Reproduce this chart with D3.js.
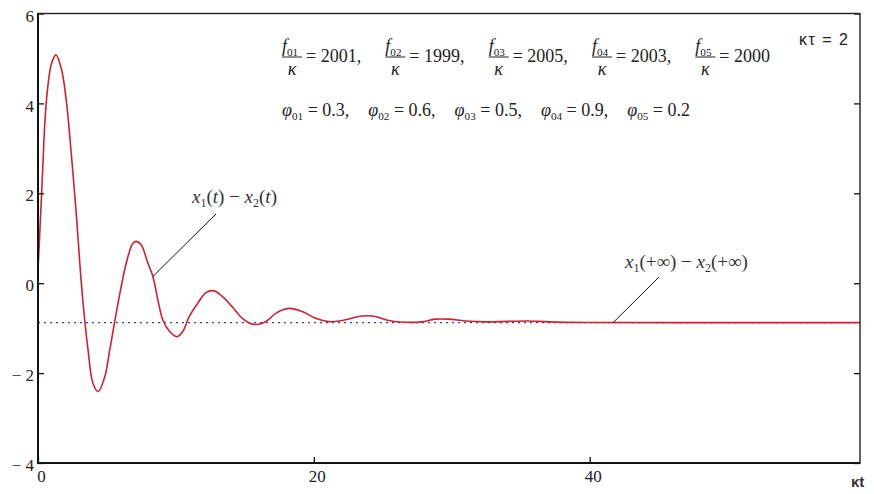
<!DOCTYPE html>
<html>
<head>
<meta charset="utf-8">
<script src="https://cdn.jsdelivr.net/npm/d3@7"></script>
<style>
  body { margin: 0; background: #fff; }
  svg { display: block; }
</style>
</head>
<body>
<svg id="chart" width="874" height="494"></svg>
<script>
// values
const tVals = [0, 0.14, 0.34, 0.51, 0.74, 0.99, 1.3, 1.71, 2.07, 2.43, 2.79, 3.03, 3.27, 3.63, 3.99, 4.36,
  4.84, 5.2, 5.8, 6.4, 6.88, 7.13, 7.49, 7.96, 8.33, 8.69, 9.05, 9.53, 10.06, 10.49, 10.97, 11.57,
  12.18, 12.78, 13.38, 14.1, 14.82, 15.55, 16.27, 16.75, 17.23, 18.2, 19.16, 20.12, 21.1, 22.04,
  23.49, 24.45, 25.42, 26.62, 27.82, 28.79, 29.75, 31, 32.5, 34, 35.5, 37, 40, 50, 59.6];
const diffVals = [0.3, 1.19, 2.52, 3.64, 4.45, 4.9, 5.08, 4.75, 4.01, 2.82, 1.48, 0.45, -0.45, -1.49, -2.23, -2.41,
  -2.08, -1.49, -0.45, 0.45, 0.89, 0.93, 0.85, 0.45, 0.15, -0.37, -0.82, -1.07, -1.19, -1.08, -0.74, -0.45,
  -0.21, -0.17, -0.3, -0.53, -0.78, -0.91, -0.89, -0.8, -0.67, -0.56, -0.63, -0.78, -0.855, -0.83,
  -0.73, -0.74, -0.83, -0.87, -0.86, -0.8, -0.8, -0.84, -0.86, -0.85, -0.84, -0.86, -0.875, -0.877, -0.877];
const asymptote = -0.877;

const xTicks = [0, 20, 40];
const yTicks = [-4, -2, 0, 2, 4, 6];

const freqNames = ['01', '02', '03', '04', '05'];
const freqRatios = [2001, 1999, 2005, 2003, 2000];
const phases = [0.3, 0.6, 0.5, 0.9, 0.2];
const kTau = 2;

const serif = '"Liberation Serif", "DejaVu Serif", serif';
const sans = '"Liberation Sans", Arial, sans-serif';
const ink = '#222';

const svg = d3.select('#chart');

const x = d3.scaleLinear().domain([0, 59.6]).range([38, 860]);
const y = d3.scaleLinear().domain([-4, 6]).range([463, 13.5]);

svg.append('clipPath').attr('id', 'plot-clip')
  .append('rect')
  .attr('x', x(0)).attr('y', y(6))
  .attr('width', x(59.6) - x(0)).attr('height', y(-4) - y(6));

// asymptote, dotted blue
svg.append('line')
  .attr('x1', x(0)).attr('x2', x(59.6))
  .attr('y1', y(asymptote)).attr('y2', y(asymptote))
  .attr('stroke', '#3434bc')
  .attr('stroke-width', 1.4)
  .attr('stroke-dasharray', '2,4');

const pts = tVals.map((t, i) => [t, diffVals[i]]);
const line = d3.line()
  .x(d => x(d[0]))
  .y(d => y(d[1]))
  .curve(d3.curveCatmullRom.alpha(0.5));

svg.append('path')
  .datum(pts)
  .attr('clip-path', 'url(#plot-clip)')
  .attr('d', line)
  .attr('fill', 'none')
  .attr('stroke', '#d0222e')
  .attr('stroke-width', 1.6);

// axes (ticks inside the box)
const fmt = d => (d < 0 ? '\u2212 ' + (-d) : '' + d);

const yAxis = svg.append('g')
  .attr('transform', `translate(${x(0)},0)`)
  .call(d3.axisLeft(y).tickValues(yTicks).tickSize(-6).tickPadding(4).tickFormat(fmt));
yAxis.selectAll('text').attr('dy', '0.45em');

svg.append('g')
  .attr('transform', `translate(${x(59.6)},0)`)
  .call(d3.axisRight(y).tickValues(yTicks).tickSize(-6).tickFormat(''));

const xAxis = svg.append('g')
  .attr('transform', `translate(0,${y(-4)})`)
  .call(d3.axisBottom(x).tickValues(xTicks).tickSize(-6).tickPadding(7).tickFormat(fmt));
xAxis.selectAll('text').attr('dx', 3);

svg.selectAll('.domain').remove();
svg.selectAll('.tick line').attr('stroke', '#111').attr('stroke-width', 1.3);
svg.selectAll('.tick text')
  .attr('fill', ink)
  .style('font-family', serif)
  .style('font-size', '17px');

// frame
svg.append('rect')
  .attr('x', x(0)).attr('y', y(6))
  .attr('width', x(59.6) - x(0)).attr('height', y(-4) - y(6))
  .attr('fill', 'none')
  .attr('stroke', ink)
  .attr('stroke-width', 1.4);
svg.append('path')
  .attr('d', `M${x(0)},${y(6)}V${y(-4)}H${x(59.6)}`)
  .attr('fill', 'none')
  .attr('stroke', '#111')
  .attr('stroke-width', 2);

// axis label and parameter
svg.append('text')
  .attr('x', 851).attr('y', 487)
  .style('font-family', sans).style('font-size', '15px').style('font-weight', 'bold')
  .attr('fill', '#333')
  .text('\u03bat');

svg.append('text')
  .attr('x', 799).attr('y', 45)
  .style('font-family', sans).style('font-size', '16px').style('letter-spacing', '1.5px')
  .attr('fill', ink)
  .text('\u03ba\u03c4 = ' + kTau);

// helper: italic letter with subscript followed by plain text
function subText(g, xPos, yPos, base, sub, rest, size) {
  const t = g.append('text')
    .attr('x', xPos).attr('y', yPos)
    .style('font-family', serif)
    .style('font-size', size + 'px')
    .attr('fill', ink);
  t.append('tspan').style('font-style', 'italic').text(base);
  t.append('tspan').attr('dy', 4).style('font-size', (size * 0.62) + 'px').text(sub);
  t.append('tspan').attr('dy', -4).text(rest);
  return t;
}

// spread a row of groups so it runs from start to end
function spreadRow(groups, start, end) {
  const widths = groups.map(g => g.node().getBBox().width);
  const gap = (end - start - d3.sum(widths)) / (groups.length - 1);
  let cx = start;
  groups.forEach((g, i) => {
    g.attr('transform', `translate(${cx},0)`);
    cx += widths[i] + gap;
  });
}

const notes = svg.append('g');

// first row: fractions f0i / kappa
const fracGroups = freqRatios.map((v, i) => {
  const g = notes.append('g');
  subText(g, 0, 52, 'f', freqNames[i], '', 18);
  g.append('line')
    .attr('x1', 0).attr('x2', 20)
    .attr('y1', 57).attr('y2', 57)
    .attr('stroke', ink).attr('stroke-width', 1);
  g.append('text')
    .attr('x', 10).attr('y', 75)
    .attr('text-anchor', 'middle')
    .style('font-family', serif).style('font-size', '18px').style('font-style', 'italic')
    .attr('fill', ink)
    .text('\u03ba');
  g.append('text')
    .attr('x', 24).attr('y', 62)
    .style('font-family', serif).style('font-size', '18px')
    .attr('fill', ink)
    .text('= ' + v + (i < freqRatios.length - 1 ? ',' : ''));
  return g;
});
spreadRow(fracGroups, 282, 770);

// second row: phases
const phiGroups = phases.map((p, i) => {
  const g = notes.append('g');
  subText(g, 0, 116, '\u03c6', freqNames[i], ' = ' + p + (i < phases.length - 1 ? ',' : ''), 18);
  return g;
});
spreadRow(phiGroups, 282, 690);

// annotations with leader lines
function annot(parts, tx, ty, lx1, ly1, lx2, ly2) {
  const t = svg.append('text')
    .attr('x', tx).attr('y', ty)
    .style('font-family', serif).style('font-size', '19px')
    .attr('fill', '#333');
  parts.forEach(p => {
    const s = t.append('tspan').text(p.s);
    if (p.it) s.style('font-style', 'italic');
    if (p.sub) s.attr('dy', 4).style('font-size', '12px');
    if (p.up) s.attr('dy', -4);
  });
  svg.append('line')
    .attr('x1', lx1).attr('y1', ly1).attr('x2', lx2).attr('y2', ly2)
    .attr('stroke', '#111').attr('stroke-width', 1);
}

annot([
  {s: 'x', it: true}, {s: '1', sub: true}, {s: '(', up: true}, {s: 't', it: true}, {s: ') \u2212 '},
  {s: 'x', it: true}, {s: '2', sub: true}, {s: '(', up: true}, {s: 't', it: true}, {s: ')'}
], 192, 203, 216, 214, x(8.33), y(0.15));

annot([
  {s: 'x', it: true}, {s: '1', sub: true}, {s: '(+\u221e) \u2212 ', up: true},
  {s: 'x', it: true}, {s: '2', sub: true}, {s: '(+\u221e)', up: true}
], 625, 268, 659, 277, x(41.7), y(asymptote));
</script>
</body>
</html>
